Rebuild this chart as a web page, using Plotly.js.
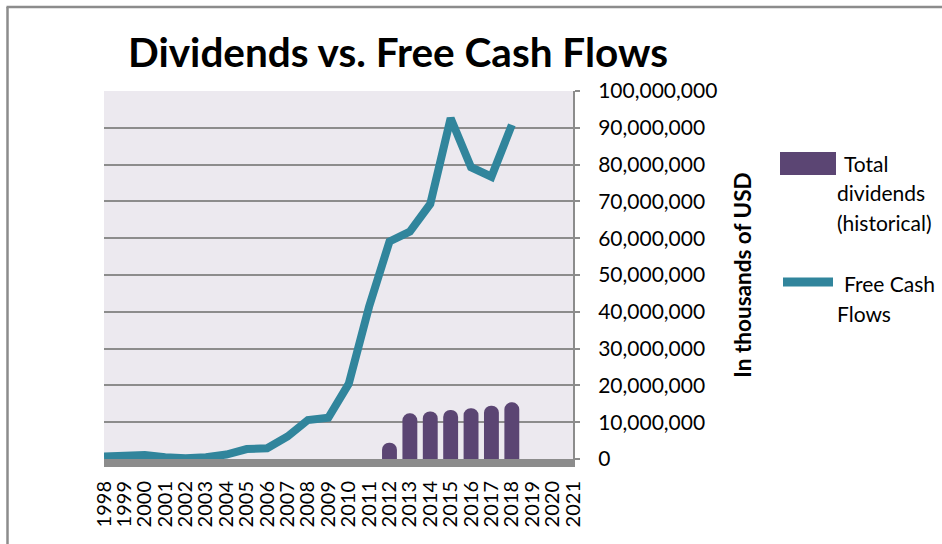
<!DOCTYPE html>
<html>
<head>
<meta charset="utf-8">
<script src="https://cdn.plot.ly/plotly-3.0.1.min.js"></script>
<style>html,body{margin:0;padding:0;background:#fff;}#chart{width:942px;height:544px;}</style>
</head>
<body>
<div id="chart"></div>
<script>
// Categories (years on the horizontal axis)
const years = ["1998","1999","2000","2001","2002","2003","2004","2005","2006","2007","2008","2009","2010","2011","2012","2013","2014","2015","2016","2017","2018","2019","2020","2021"];
// Free Cash Flows (thousands of USD), 1998-2018
const fcfYears = ["1998","1999","2000","2001","2002","2003","2004","2005","2006","2007","2008","2009","2010","2011","2012","2013","2014","2015","2016","2017","2018"];
const fcfValues = [700000, 700000, 1100000, 500000, 200000, 500000, 1200000, 2700000, 2900000, 6100000, 10600000, 11200000, 20400000, 41400000, 59100000, 61800000, 69300000, 92600000, 79300000, 76700000, 90800000];
// Total dividends (historical), 2012-2018
const divYears = ["2012","2013","2014","2015","2016","2017","2018"];
const divValues = [4400000, 12400000, 12900000, 13300000, 13800000, 14500000, 15400000];
// Y tick labels
const yTickVals = [0,10000000,20000000,30000000,40000000,50000000,60000000,70000000,80000000,90000000,100000000];
const yTickText = ["0","10,000,000","20,000,000","30,000,000","40,000,000","50,000,000","60,000,000","70,000,000","80,000,000","90,000,000","100,000,000"];

const FONT = "Lato, 'Open Sans', sans-serif";
const L = 104, R = 573, T = 91, B = 459;
const px = v => (v - L) / (R - L);
const py = v => (B - v) / (B - T);

const traces = [
  {
    type: 'bar', name: 'Total dividends (historical)',
    x: divYears, y: divValues, width: 0.73,
    marker: {color: '#5B4573', cornerradius: 7},
    hoverinfo: 'x+y'
  },
  {
    type: 'scatter', mode: 'lines', name: 'Free Cash Flows',
    x: fcfYears, y: fcfValues,
    line: {color: '#31859C', width: 8},
    hoverinfo: 'x+y'
  }
];

const layout = {
  width: 942, height: 544,
  margin: {l: L, r: 942 - R, t: T, b: 544 - B},
  paper_bgcolor: '#ffffff', plot_bgcolor: '#ECE9EF',
  showlegend: false,
  font: {family: FONT, color: '#000'},
  title: {
    text: '<b>Dividends vs. Free Cash Flows</b>',
    font: {family: FONT, size: 40.5, color: '#000'},
    xref: 'container', yref: 'container',
    x: 398 / 942, xanchor: 'center', y: 1 - 53 / 544, yanchor: 'middle'
  },
  xaxis: {
    type: 'category', categoryorder: 'array', categoryarray: years,
    range: [0, years.length - 1],
    tickmode: 'array', tickvals: years, ticktext: years,
    tickangle: -90, tickfont: {family: FONT, size: 20, color: '#000'},
    ticklabelstandoff: 6,
    showgrid: false, zeroline: false,
    showline: true, linecolor: '#8C8C8C', linewidth: 8,
    ticks: '', fixedrange: true
  },
  yaxis: {
    side: 'right', range: [0, 100000000],
    tickmode: 'array', tickvals: yTickVals, ticktext: yTickText,
    tickfont: {family: FONT, size: 21, color: '#000'},
    ticks: 'outside', ticklen: 5, tickwidth: 2, tickcolor: '#8C8C8C',
    ticklabelstandoff: 14,
    showgrid: true, gridcolor: '#8C8C8C', gridwidth: 2,
    zeroline: false, showline: true, linecolor: '#8C8C8C', linewidth: 2,
    title: {text: '<b>In thousands of USD</b>', font: {family: FONT, size: 22.5, color: '#000'}, standoff: 19},
    fixedrange: true
  },
  shapes: [
    {type: 'line', xref: 'paper', yref: 'paper', x0: px(7.5), x1: px(7.5), y0: py(544), y1: py(7), line: {color: '#8C8C8C', width: 2.5}},
    {type: 'line', xref: 'paper', yref: 'paper', x0: px(6.5), x1: px(942), y0: py(7), y1: py(7), line: {color: '#8C8C8C', width: 2.5}},
    {type: 'rect', xref: 'paper', yref: 'paper', x0: px(780), x1: px(836), y0: py(152), y1: py(175), fillcolor: '#5B4573', line: {width: 0}},
    {type: 'line', xref: 'paper', yref: 'paper', x0: px(783), x1: px(833), y0: py(282), y1: py(282), line: {color: '#31859C', width: 9}}
  ],
  annotations: [
    {text: 'Total', x: px(842), y: py(163)},
    {text: 'dividends', x: px(835), y: py(192)},
    {text: '(historical)', x: px(835), y: py(222)},
    {text: 'Free Cash', x: px(842), y: py(283)},
    {text: 'Flows', x: px(835), y: py(313)}
  ].map(a => Object.assign({xref: 'paper', yref: 'paper', xanchor: 'left', yanchor: 'middle', showarrow: false, font: {family: FONT, size: 21, color: '#000'}}, a))
};

Plotly.newPlot('chart', traces, layout, {displayModeBar: false, staticPlot: true});
</script>
</body>
</html>
